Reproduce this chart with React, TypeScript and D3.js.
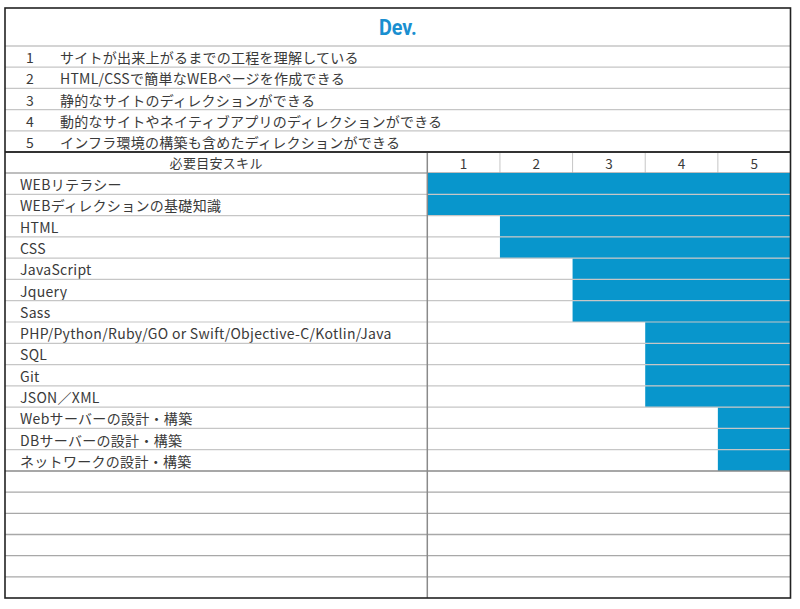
import React from "react";
import * as d3 from "d3";

const title = "Dev.";
const levelNumbers = ["1", "2", "3", "4", "5"];
const levelDescriptions = [
  "サイトが出来上がるまでの工程を理解している",
  "HTML/CSSで簡単なWEBページを作成できる",
  "静的なサイトのディレクションができる",
  "動的なサイトやネイティブアプリのディレクションができる",
  "インフラ環境の構築も含めたディレクションができる",
];
const headerLabel = "必要目安スキル";
const skills = [
  "WEBリテラシー",
  "WEBディレクションの基礎知識",
  "HTML",
  "CSS",
  "JavaScript",
  "Jquery",
  "Sass",
  "PHP/Python/Ruby/GO or Swift/Objective-C/Kotlin/Java",
  "SQL",
  "Git",
  "JSON／XML",
  "Webサーバーの設計・構築",
  "DBサーバーの設計・構築",
  "ネットワークの設計・構築",
];
const startLevel = [1, 1, 2, 2, 3, 3, 3, 4, 4, 4, 4, 5, 5, 5];
const emptyRowCount = 6;

const W = 800;
const H = 609;
const L = 5;
const R = 790.5;
const T = 8;
const B = 598;
const split = 427.3;
const BLUE = "#0896cc";
const GRID = "#c6c6c6";
const TEXT = "#3a3a3a";
const FONT = "'Noto Sans CJK JP', 'Noto Sans', sans-serif";

export default function App() {
  const descY = d3
    .scaleBand<number>()
    .domain(d3.range(levelDescriptions.length))
    .range([46, 152]);
  const skillY = d3
    .scaleBand<number>()
    .domain(d3.range(skills.length))
    .range([173, 471]);
  const emptyY = d3
    .scaleBand<number>()
    .domain(d3.range(emptyRowCount))
    .range([471, B]);
  const x = d3.scaleLinear().domain([1, 6]).range([split, R]);
  const cx = (L + R) / 2;

  return (
    <svg
      width={W}
      height={H}
      style={{ position: "absolute", left: 0, top: 0, background: "#fff" }}
      fontFamily={FONT}
    >
      {/* Title */}
      <text
        x={cx}
        y={28}
        textAnchor="middle"
        dominantBaseline="central"
        fill="#1a8fd0"
        fontSize={22}
        fontWeight="bold"
        fontFamily="Roboto, 'DejaVu Sans', sans-serif"
        transform={`translate(${cx} 28) scale(0.9 1) translate(${-cx} -28)`}
      >
        {title}
      </text>
      <line x1={L} x2={R} y1={46} y2={46} stroke={GRID} strokeWidth={1.5} />

      {/* Level descriptions */}
      {levelDescriptions.map((d, i) => {
        const y0 = descY(i)!;
        const bw = descY.bandwidth();
        return (
          <g key={"d" + i}>
            {i > 0 && (
              <line x1={L} x2={R} y1={y0} y2={y0} stroke={GRID} strokeWidth={1.2} />
            )}
            <text x={30} y={y0 + bw / 2 + 0.5} textAnchor="middle" dominantBaseline="central" fontSize={14} fill={TEXT}>
              {levelNumbers[i]}
            </text>
            <text x={60} y={y0 + bw / 2 + 0.5} dominantBaseline="central" fontSize={14} letterSpacing={0.25} fill={TEXT}>
              {d}
            </text>
          </g>
        );
      })}

      {/* Header row */}
      <text x={(L + split) / 2} y={162.5} textAnchor="middle" dominantBaseline="central" fontSize={13} letterSpacing={0.3} fill={TEXT}>
        {headerLabel}
      </text>
      {levelNumbers.map((n, i) => (
        <g key={"h" + i}>
          {i > 0 && <line x1={x(i + 1)} x2={x(i + 1)} y1={152} y2={173} stroke={GRID} strokeWidth={1} />}
          <text x={(x(i + 1) + x(i + 2)) / 2} y={162.5} textAnchor="middle" dominantBaseline="central" fontSize={13.5} fill={TEXT}>
            {n}
          </text>
        </g>
      ))}
      <line x1={L} x2={R} y1={173} y2={173} stroke="#a8a8a8" strokeWidth={1.5} />

      {/* Skill rows */}
      {skills.map((s, i) => {
        const y0 = skillY(i)!;
        const bw = skillY.bandwidth();
        return (
          <g key={"s" + i}>
            <rect x={x(startLevel[i])} y={y0} width={x(6) - x(startLevel[i])} height={bw} fill={BLUE} />
            {i > 0 && <line x1={L} x2={R} y1={y0} y2={y0} stroke={GRID} strokeWidth={1.2} />}
            <text x={20} y={y0 + bw / 2 + 0.5} dominantBaseline="central" fontSize={14} letterSpacing={0.3} fill={TEXT}>
              {s}
            </text>
          </g>
        );
      })}
      <line x1={L} x2={R} y1={471} y2={471} stroke="#8a8a8a" strokeWidth={1.3} />

      {/* Empty rows */}
      {d3.range(1, emptyRowCount).map((i) => (
        <line key={"e" + i} x1={L} x2={R} y1={emptyY(i)!} y2={emptyY(i)!} stroke="#a8a8a8" strokeWidth={1.3} />
      ))}

      {/* Vertical split */}
      <line x1={split} x2={split} y1={152} y2={B} stroke="#8a8a8a" strokeWidth={1.5} />

      {/* Heavy line under descriptions */}
      <line x1={L} x2={R} y1={152} y2={152} stroke="#333" strokeWidth={1.8} />

      {/* Outer border */}
      <rect x={L} y={T} width={R - L} height={B - T} fill="none" stroke="#222" strokeWidth={1.6} />
    </svg>
  );
}
